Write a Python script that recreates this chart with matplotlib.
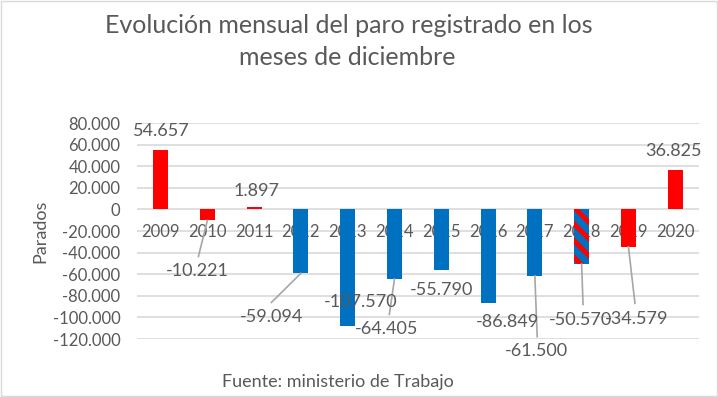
import matplotlib.pyplot as plt
from matplotlib.patches import Rectangle

# Datos: variación del paro registrado en diciembre
years = ['2009', '2010', '2011', '2012', '2013', '2014', '2015', '2016',
         '2017', '2018', '2019', '2020']
values = [54657, -10221, 1897, -59094, -107570, -64405, -55790, -86849,
          -61500, -50570, -34579, 36825]
bar_colors = ['#FF0000', '#FF0000', '#FF0000', '#0070C0', '#0070C0', '#0070C0',
              '#0070C0', '#0070C0', '#0070C0', '#0070C0', '#FF0000', '#FF0000']
y_ticks = [80000, 60000, 40000, 20000, 0, -20000, -40000, -60000, -80000,
           -100000, -120000]

# posiciones de las etiquetas (x, y) y extremo de la línea guía
label_pos = [(0.02, 72200), (0.79, -57400), (2.05, 16700), (2.37, -100000),
             (4.27, -86100), (4.84, -111100), (6.0, -75000), (7.41, -104600),
             (8.03, -131300), (8.97, -102800), (10.18, -101900), (10.97, 53700)]
leader_end = {1: (0.81, -43500), 3: (2.37, -86100), 5: (4.89, -97200),
              8: (8.05, -117800), 9: (9.03, -88000), 10: (10.14, -87000)}

gray = '#595959'
plt.rcParams['font.family'] = ['Lato', 'DejaVu Sans']
plt.rcParams['hatch.linewidth'] = 3.5


def fmt(v):
    return f'{v:,}'.replace(',', '.')


fig = plt.figure(figsize=(7.18, 3.97), dpi=100)
ax = fig.add_axes([0.191, 0.146, 0.782, 0.544])

x = list(range(len(years)))
bars = ax.bar(x, values, width=0.32, color=bar_colors, zorder=3)
# 2018 rayado
bars[9].set_hatch('\\\\')
bars[9].set_edgecolor('#FF0000')
bars[9].set_linewidth(0)

ax.set_ylim(-120000, 80000)
ax.set_xlim(-0.5, len(years) - 0.5)
ax.set_yticks(y_ticks)
ax.set_yticklabels([fmt(t) for t in y_ticks], color=gray, fontsize=12)
ax.set_xticks([])
ax.tick_params(axis='y', length=0, pad=12)
ax.grid(axis='y', color='#D9D9D9', linewidth=1.2, zorder=0)
for s in ax.spines.values():
    s.set_visible(False)

for i, yr in enumerate(years):
    ax.text(i, -21300, yr, ha='center', va='center', color=gray, fontsize=12, zorder=2)

for i, v in enumerate(values):
    lx, ly = label_pos[i]
    if i in leader_end:
        ex, ey = leader_end[i]
        ax.plot([i, ex], [v, ey], color='#A6A6A6', linewidth=1.2, zorder=4, clip_on=False)
    ax.text(lx, ly, fmt(v), ha='center', va='center', color=gray, fontsize=13,
            zorder=5, clip_on=False)

ax.set_ylabel('Parados', color=gray, fontsize=13, labelpad=3)

fig.text(0.486, 0.935, 'Evolución mensual del paro registrado en los',
         ha='center', va='center', color=gray, fontsize=18)
fig.text(0.484, 0.856, 'meses de diciembre', ha='center', va='center',
         color=gray, fontsize=18)
fig.text(0.471, 0.038, 'Fuente: ministerio de Trabajo', ha='center', va='center',
         color=gray, fontsize=13)

fig.patches.append(Rectangle((0.001, 0.002), 0.997, 0.995, transform=fig.transFigure,
                             fill=False, edgecolor='#D9D9D9', linewidth=1))

fig.savefig('out.png', dpi=100)
